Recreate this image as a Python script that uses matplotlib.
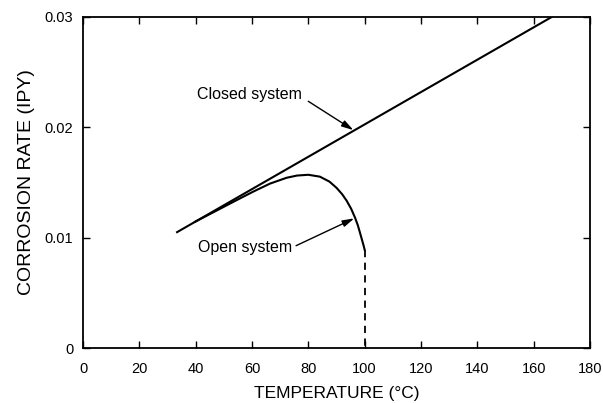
import numpy as np
import matplotlib.pyplot as plt

plt.rcParams['font.family'] = ['Liberation Sans', 'DejaVu Sans']

# closed system: straight line
closed_t = [33.4, 166.4]
closed_rate = [0.0105, 0.0300]

# open system: rises along the closed line, peaks near 80 C, falls off at 100 C
open_t = [39.8, 44.0, 48.6, 54.0, 60.5, 66.4, 72.3, 76.0, 80.0, 84.1, 87.5,
          90.0, 92.0, 93.6, 95.2, 96.6, 97.6, 98.3, 99.0, 99.6, 100.0]
open_rate = [0.01144, 0.01200, 0.01261, 0.01333, 0.01418, 0.01490, 0.01543,
             0.01563, 0.01570, 0.01553, 0.01508, 0.01452, 0.01394, 0.01335,
             0.01262, 0.01180, 0.01110, 0.01048, 0.00985, 0.00930, 0.00890]
drop_t = [100.0, 100.0]
drop_rate = [0.0089, 0.0]

xticks = [0, 20, 40, 60, 80, 100, 120, 140, 160, 180]
yticks = [0, 0.01, 0.02, 0.03]
ytick_labels = ['0', '0.01', '0.02', '0.03']

fig = plt.figure(figsize=(6.03, 4.03), dpi=100)
ax = fig.add_axes([83 / 603, 1 - 348 / 403, (590 - 83) / 603, (348 - 17) / 403])

ax.plot(closed_t, closed_rate, color='black', lw=1.5)
ax.plot(open_t, open_rate, color='black', lw=1.5)
ax.plot(drop_t, drop_rate, color='black', lw=1.3, ls=(0, (4, 3)))

arrow = '-|>,head_length=0.7,head_width=0.2'
ax.annotate('Closed system', xy=(96.0, 0.01975), xytext=(40.5, 0.0230),
            fontsize=11.5, ha='left', va='center',
            arrowprops=dict(arrowstyle=arrow, color='black', lw=1.0,
                            shrinkA=3, shrinkB=0, mutation_scale=10,
                            relpos=(1.0, 0.3)))
ax.annotate('Open system', xy=(96.3, 0.01175), xytext=(40.8, 0.0091),
            fontsize=11.5, ha='left', va='center',
            arrowprops=dict(arrowstyle=arrow, color='black', lw=1.0,
                            shrinkA=1, shrinkB=0, mutation_scale=10,
                            relpos=(1.0, 0.5)))

ax.set_xlim(0, 180)
ax.set_ylim(0, 0.03)
ax.set_xticks(xticks)
ax.set_yticks(yticks)
ax.set_yticklabels(ytick_labels)
ax.tick_params(direction='in', top=True, right=True, length=5, width=1.0,
               labelsize=10.5)
ax.tick_params(axis='x', pad=10)
ax.tick_params(axis='y', pad=7)
for s in ax.spines.values():
    s.set_linewidth(1.3)

ax.set_xlabel('TEMPERATURE (°C)', fontsize=12.5, labelpad=7)
ax.set_ylabel('CORROSION RATE (IPY)', fontsize=14, labelpad=7)

fig.savefig('out.png', dpi=100)
